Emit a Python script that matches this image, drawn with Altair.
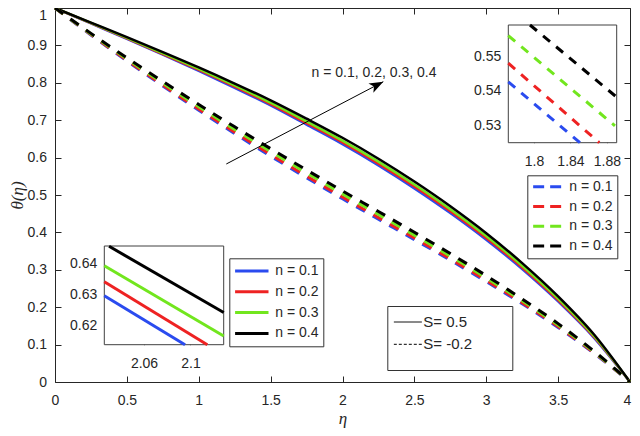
import altair as alt
import pandas as pd

# ---------------- data ----------------
eta = [0.0, 0.25, 0.5, 0.75, 1.0, 1.25, 1.5, 1.75, 2.0, 2.25, 2.5, 2.75, 3.0, 3.25, 3.5, 3.75, 4.0]
n_labels = ["n = 0.1", "n = 0.2", "n = 0.3", "n = 0.4"]
n_colors = ["#2a4bef", "#ee2222", "#72e61e", "#000000"]
s_labels = ["S= 0.5", "S= -0.2"]

# S = 0.5 (solid)
solid_n01 = [1.000, 0.9587, 0.9175, 0.8752, 0.8319, 0.7866, 0.7394, 0.6881, 0.6360, 0.5793, 0.5178, 0.4518, 0.3803, 0.3021, 0.2154, 0.1179, 0.000]
solid_n02 = [1.000, 0.9593, 0.9187, 0.8770, 0.8343, 0.7897, 0.7430, 0.6923, 0.6405, 0.5840, 0.5226, 0.4566, 0.3850, 0.3063, 0.2190, 0.1203, 0.000]
solid_n03 = [1.000, 0.9600, 0.9200, 0.8790, 0.8370, 0.7930, 0.7470, 0.6970, 0.6455, 0.5892, 0.5280, 0.4620, 0.3902, 0.3110, 0.2230, 0.1230, 0.000]
solid_n04 = [1.000, 0.9610, 0.9220, 0.8820, 0.8410, 0.7980, 0.7530, 0.7040, 0.6530, 0.5970, 0.5360, 0.4700, 0.3980, 0.3180, 0.2290, 0.1270, 0.000]

# S = -0.2 (dashed)
dash_n01 = [1.000, 0.9280, 0.8585, 0.7915, 0.7266, 0.6642, 0.6040, 0.5460, 0.4900, 0.4352, 0.3807, 0.3255, 0.2685, 0.2091, 0.1460, 0.0767, 0.000]
dash_n02 = [1.000, 0.9289, 0.8603, 0.7941, 0.7299, 0.6681, 0.6083, 0.5505, 0.4945, 0.4396, 0.3849, 0.3293, 0.2719, 0.2119, 0.1482, 0.0780, 0.000]
dash_n03 = [1.000, 0.9306, 0.8637, 0.7990, 0.7362, 0.6754, 0.6164, 0.5590, 0.5030, 0.4479, 0.3928, 0.3366, 0.2783, 0.2172, 0.1522, 0.0803, 0.000]
dash_n04 = [1.000, 0.9322, 0.8669, 0.8037, 0.7421, 0.6823, 0.6240, 0.5670, 0.5110, 0.4558, 0.4002, 0.3434, 0.2843, 0.2221, 0.1560, 0.0826, 0.000]

x_ticks = [0, 0.5, 1, 1.5, 2, 2.5, 3, 3.5, 4]
y_ticks = [0, 0.1, 0.2, 0.3, 0.4, 0.5, 0.6, 0.7, 0.8, 0.9, 1]

# inset 1 (solid lines, zoom near eta ~ 2.07)
in1_eta_start = [2.0258, 2.0258, 2.0258, 2.0299]
in1_theta_start = [0.6296, 0.6341, 0.6392, 0.6454]
in1_eta_end = [2.0953, 2.1145, 2.1286, 2.1286]
in1_theta_end = [0.6140, 0.6140, 0.6168, 0.6243]
in1_x_domain = [2.0258, 2.1286]
in1_y_domain = [0.6140, 0.6455]
in1_x_ticks = [2.06, 2.1]
in1_y_ticks = [0.62, 0.63, 0.64]

# inset 2 (dashed lines, zoom near eta ~ 1.83)
in2_eta_start = [1.7718, 1.7718, 1.7718, 1.7956]
in2_theta_start = [0.5426, 0.5480, 0.5560, 0.5591]
in2_eta_end = [1.8504, 1.8716, 1.8888, 1.8899]
in2_theta_end = [0.5249, 0.5249, 0.5298, 0.5383]
in2_x_domain = [1.7718, 1.8907]
in2_y_domain = [0.5249, 0.5591]
in2_x_ticks = [1.8, 1.84, 1.88]
in2_y_ticks = [0.53, 0.54, 0.55]

# annotation arrow and text (data coordinates)
arrow_eta = [1.1917, 2.2838]
arrow_theta = [0.5829, 0.8029]
note_eta = [1.7843]
note_theta = [0.8254]
note_text = ["n = 0.1, 0.2, 0.3, 0.4"]

# ---------------- tables ----------------
rows = []
for s_lab, series in ((s_labels[0], [solid_n01, solid_n02, solid_n03, solid_n04]),
                      (s_labels[1], [dash_n01, dash_n02, dash_n03, dash_n04])):
    for lab, vals in zip(n_labels, series):
        for e, t in zip(eta, vals):
            rows.append({"eta": e, "theta": t, "n": lab, "S": s_lab})
df_main = pd.DataFrame(rows)


def inset_df(es, ts, ee, te):
    r = []
    for lab, a, b, c, d in zip(n_labels, es, ts, ee, te):
        r.append({"eta": a, "theta": b, "n": lab})
        r.append({"eta": c, "theta": d, "n": lab})
    return pd.DataFrame(r)


df_in1 = inset_df(in1_eta_start, in1_theta_start, in1_eta_end, in1_theta_end)
df_in2 = inset_df(in2_eta_start, in2_theta_start, in2_eta_end, in2_theta_end)
df_box1 = pd.DataFrame({"x0": [in1_x_domain[0]], "x1": [in1_x_domain[1]],
                        "y0": [in1_y_domain[0]], "y1": [in1_y_domain[1]]})
df_box2 = pd.DataFrame({"x0": [in2_x_domain[0]], "x1": [in2_x_domain[1]],
                        "y0": [in2_y_domain[0]], "y1": [in2_y_domain[1]]})
df_arrow = pd.DataFrame({"x1": [arrow_eta[0]], "y1": [arrow_theta[0]],
                         "x2": [arrow_eta[1]], "y2": [arrow_theta[1]]})
df_head = pd.DataFrame({"x": [arrow_eta[1]], "y": [arrow_theta[1]]})
df_note = pd.DataFrame({"x": note_eta, "y": note_theta, "label": note_text})

# ---------------- layout constants ----------------
W, H = 575, 374
FONT = "Liberation Sans"
INK = "#262626"
ZW = "\u200b"
PAD_TAIL = "\u00a0" * 8 + ZW          # widens the S-legend box (Vega trims plain whitespace)
BLANK_TITLE = ZW + "\u00a0" + ZW      # blank bottom title adds the legend's lower margin

sx = alt.Scale(domain=[0, 4], nice=False, zero=False)
sy = alt.Scale(domain=[0, 1], nice=False, zero=False)
color_scale = alt.Scale(domain=n_labels, range=n_colors)

ax_x_lab = alt.Axis(orient="bottom", values=x_ticks, format="~g", ticks=False, domain=True,
                    labelPadding=11, labelFlush=False,
                    labelOffset={"condition": {"test": "datum.value == 4", "value": -3}, "value": 0},
                    title="η",
                    titleFont="Liberation Serif", titleFontStyle="italic", titleFontWeight="normal",
                    titleFontSize=17, titleColor=INK, titleY=41, titleBaseline="alphabetic")
ax_y_lab = alt.Axis(orient="left", values=y_ticks, format="~g", ticks=False, domain=True,
                    labelPadding=8.5,
                    labelOffset={"condition": {"test": "datum.value == 1", "value": 7}, "value": 0},
                    title="θ(η)", titleFont="Liberation Serif", titleFontStyle="italic",
                    titleFontWeight="normal", titleFontSize=17, titleColor=INK,
                    titleX=-37.5, titleBaseline="middle")
ax_x_in = alt.Axis(orient="top", offset=-H, values=x_ticks, labels=False, domain=False,
                   tickSize=6, title=None)
ax_y_in = alt.Axis(orient="right", offset=-W, values=y_ticks, labels=False, domain=False,
                   tickSize=6, title=None)
ax_x_top = alt.Axis(orient="bottom", offset=-H, values=x_ticks, labels=False, domain=True,
                    tickSize=6, title=None)
ax_y_right = alt.Axis(orient="left", offset=-W, values=y_ticks, labels=False, domain=True,
                      tickSize=6, title=None)

# ---------------- main layers ----------------
solid = alt.Chart(df_main).transform_filter("datum.S == 'S= 0.5'").mark_line(
    strokeWidth=2.5, interpolate="monotone").encode(
    x=alt.X("eta:Q", scale=sx, axis=ax_x_lab),
    y=alt.Y("theta:Q", scale=sy, axis=ax_y_lab),
    color=alt.Color("n:N", scale=color_scale, legend=None),
)

dashed = alt.Chart(df_main).transform_filter("datum.S == 'S= -0.2'").mark_line(
    strokeWidth=3, strokeDash=[10, 9], interpolate="monotone").encode(
    x=alt.X("eta:Q", scale=sx, axis=ax_x_in),
    y=alt.Y("theta:Q", scale=sy, axis=ax_y_in),
    color=alt.Color("n:N", scale=color_scale, legend=None),
)

s_legend = alt.Legend(
    orient="none", legendX=332.3, legendY=298, title=BLANK_TITLE, titleOrient="bottom",
    titleFontSize=9, titlePadding=1, symbolType="stroke", symbolSize=784,
    symbolStrokeWidth=1, symbolStrokeColor="black", clipHeight=20, rowPadding=2.3,
    padding=6, labelOffset=1, labelFont=FONT, labelFontSize=15, labelColor=INK,
    labelExpr="datum.label + '" + PAD_TAIL + "'", strokeColor="#333333", fillColor="white",
    cornerRadius=0,
)
s_layer = alt.Chart(df_main).transform_filter("false").mark_line().encode(
    x=alt.X("eta:Q", scale=sx, axis=ax_x_top),
    y=alt.Y("theta:Q", scale=sy, axis=ax_y_right),
    strokeDash=alt.StrokeDash("S:N", scale=alt.Scale(domain=s_labels, range=[[1, 0], [3, 2]]),
                              legend=s_legend),
)

arrow = alt.Chart(df_arrow).mark_rule(color="black", strokeWidth=1).encode(
    x=alt.X("x1:Q", scale=sx, axis=None),
    y=alt.Y("y1:Q", scale=sy, axis=None),
    x2="x2:Q", y2="y2:Q",
)
head = alt.Chart(df_head).mark_point(
    shape="M0,0L-0.75,2L0,1.5L0.75,2Z", filled=True, color="black", opacity=1,
    size=196, angle=62.34).encode(
    x=alt.X("x:Q", scale=sx, axis=None),
    y=alt.Y("y:Q", scale=sy, axis=None),
)
note = alt.Chart(df_note).mark_text(align="left", baseline="middle", font=FONT,
                                    fontSize=14, color=INK).encode(
    x=alt.X("x:Q", scale=sx, axis=None),
    y=alt.Y("y:Q", scale=sy, axis=None),
    text="label:N",
)

main = alt.layer(solid, dashed, s_layer, arrow, head, note).resolve_axis(x="independent", y="independent")


# ---------------- insets ----------------
def make_inset(df_box, df_lines, xdom, ydom, xr, yr, xt, yt, dash, legend):
    s_x = alt.Scale(domain=xdom, range=xr, nice=False, zero=False)
    s_y = alt.Scale(domain=ydom, range=yr, nice=False, zero=False)
    bottom, left = yr[0], xr[0]
    ax_xl = alt.Axis(orient="bottom", offset=bottom - H, values=xt, format="~g", ticks=False,
                     domain=False, labelPadding=12, labelFlush=False, title=None)
    ax_yl = alt.Axis(orient="left", offset=-left, values=yt, format="~g", ticks=False,
                     domain=False, labelPadding=7.5, title=None)
    ax_xt = alt.Axis(orient="top", offset=-bottom, values=xt, labels=False, domain=False,
                     tickSize=3, title=None)
    ax_yt = alt.Axis(orient="right", offset=left - W, values=yt, labels=False, domain=False,
                     tickSize=3, title=None)
    bg = alt.Chart(df_box).mark_rect(fill="white", stroke="#404040", strokeWidth=1).encode(
        x=alt.X("x0:Q", scale=s_x, axis=ax_xl), x2="x1:Q",
        y=alt.Y("y0:Q", scale=s_y, axis=ax_yl), y2="y1:Q",
    )
    mk = dict(strokeWidth=3)
    if dash:
        mk["strokeDash"] = dash
    lines = alt.Chart(df_lines).mark_line(**mk).encode(
        x=alt.X("eta:Q", scale=s_x, axis=ax_xt),
        y=alt.Y("theta:Q", scale=s_y, axis=ax_yt),
        color=alt.Color("n:N", scale=color_scale, legend=legend),
    )
    return alt.layer(bg, lines).resolve_axis(x="independent", y="independent")


leg1 = alt.Legend(orient="none", legendX=174.3, legendY=250.3, title=None, symbolType="stroke",
                  symbolSize=1116, symbolStrokeWidth=3, clipHeight=17.4, rowPadding=2.8,
                  padding=4, labelOffset=5, labelFont=FONT, labelFontSize=14, labelColor=INK,
                  strokeColor="#333333", fillColor="white", cornerRadius=0)
leg2 = alt.Legend(orient="none", legendX=472.3, legendY=167.3, title=None, symbolType="stroke",
                  symbolSize=801, symbolStrokeWidth=3, symbolDash=[11, 6], clipHeight=15,
                  rowPadding=4.7, padding=4, labelOffset=6, labelFont=FONT, labelFontSize=14,
                  labelColor=INK, strokeColor="#333333", fillColor="white", cornerRadius=0)

inset1 = make_inset(df_box1, df_in1, in1_x_domain, in1_y_domain, [49.3, 168.7], [336.7, 238],
                    in1_x_ticks, in1_y_ticks, None, leg1)
inset2 = make_inset(df_box2, df_in2, in2_x_domain, in2_y_domain, [453.3, 561.7], [134.7, 17],
                    in2_x_ticks, in2_y_ticks, [9, 8], leg2)

chart = alt.layer(main, inset1, inset2).resolve_scale(
    x="independent", y="independent", color="independent"
).properties(
    width=W, height=H,
    padding={"left": 47, "top": 0, "right": 2, "bottom": 46},
    autosize=alt.AutoSizeParams(type="none"),
    background="white",
).configure_view(stroke=None).configure_axis(
    labelFont=FONT, labelFontSize=14, labelColor=INK, domainColor=INK, tickColor=INK,
    domainWidth=1, tickWidth=1, grid=False, zindex=1,
)

chart.save("out.html", embed_options={"renderer": "svg", "actions": False})
